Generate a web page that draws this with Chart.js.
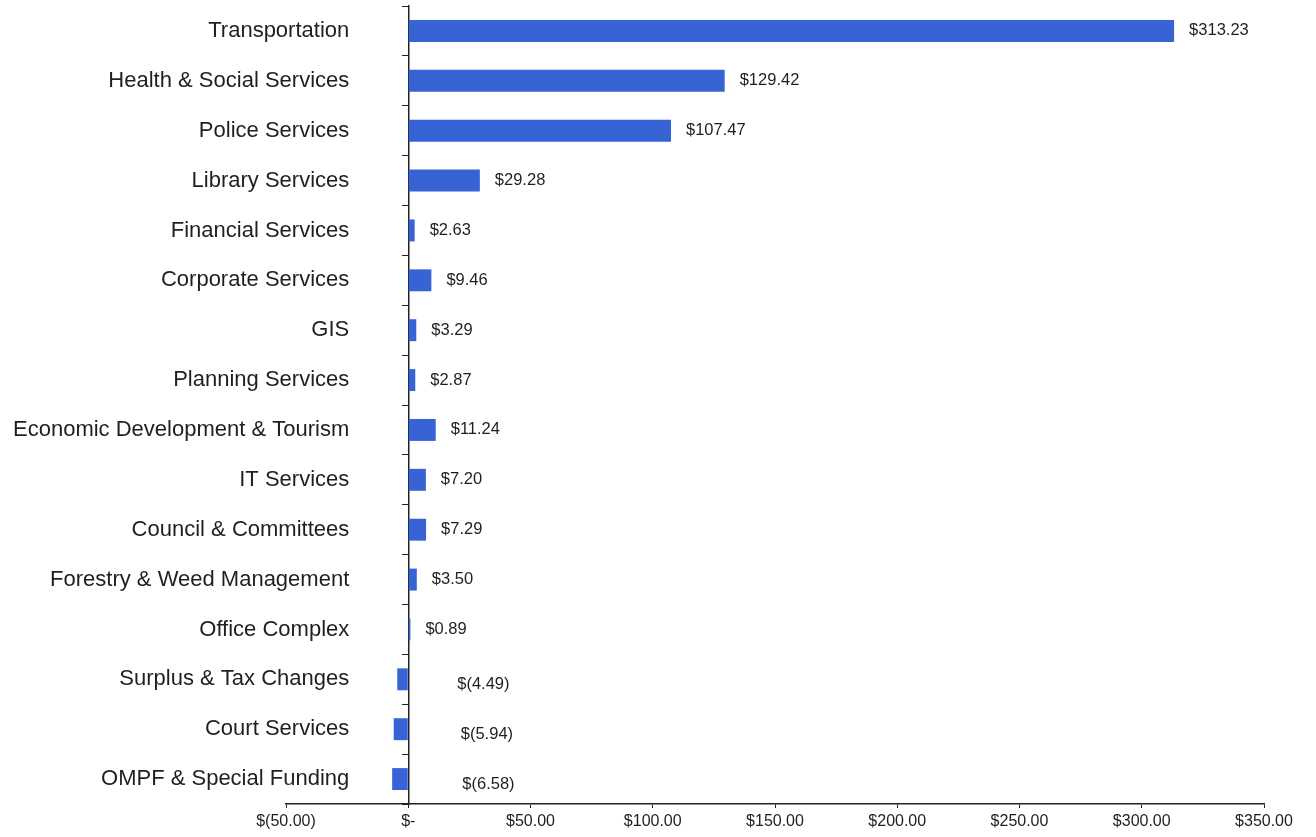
<!DOCTYPE html>
<html>
<head>
<meta charset="utf-8">
<script src="https://cdn.jsdelivr.net/npm/chart.js@4"></script>
<style>
  html, body { margin: 0; padding: 0; background: #fff; }
  #wrap { width: 1316px; height: 837px; position: relative; }
</style>
</head>
<body>
<div id="wrap"><canvas id="chart"></canvas></div>
<script>
// categories top to bottom
const categories = [
  'Transportation', 'Health & Social Services', 'Police Services', 'Library Services',
  'Financial Services', 'Corporate Services', 'GIS', 'Planning Services',
  'Economic Development & Tourism', 'IT Services', 'Council & Committees',
  'Forestry & Weed Management', 'Office Complex', 'Surplus & Tax Changes',
  'Court Services', 'OMPF & Special Funding'
];
const values = [313.23, 129.42, 107.47, 29.28, 2.63, 9.46, 3.29, 2.87, 11.24, 7.20, 7.29, 3.50, 0.89, -4.49, -5.94, -6.58];
const xMin = -50, xMax = 350, xStep = 50;

const BAR = '#3763d4';
const INK = '#1f1f1f';
const FONT = 'Arial, "Liberation Sans", sans-serif';

function money(v) {
  if (Math.abs(v) < 1e-9) return '$-';
  if (v < 0) return '$(' + Math.abs(v).toFixed(2) + ')';
  return '$' + v.toFixed(2);
}

// category names, drawn left of the zero axis (axis sits at x = 0, not at the chart edge)
const categoryLabels = {
  id: 'categoryLabels',
  afterDraw(chart) {
    const ctx = chart.ctx;
    const ys = chart.scales.y;
    const x = chart.scales.x.getPixelForValue(0) - 59;
    ctx.save();
    ctx.font = '22px ' + FONT;
    ctx.fillStyle = INK;
    ctx.textAlign = 'right';
    ctx.textBaseline = 'middle';
    categories.forEach((c, i) => ctx.fillText(c, x, ys.getPixelForTick(i)));
    ctx.restore();
  }
};

// value labels to the right of the bars (Excel-style, negatives also on the right)
const valueLabels = {
  id: 'valueLabels',
  afterDatasetsDraw(chart) {
    const ctx = chart.ctx;
    const meta = chart.getDatasetMeta(0);
    const xs = chart.scales.x;
    ctx.save();
    ctx.font = '16.5px ' + FONT;
    ctx.fillStyle = INK;
    ctx.textAlign = 'left';
    ctx.textBaseline = 'middle';
    meta.data.forEach((bar, i) => {
      const v = values[i];
      let x, y = bar.y;
      if (v >= 0) {
        x = xs.getPixelForValue(v) + 15;
      } else {
        x = xs.getPixelForValue(-v) + 38;
        y += 5;
      }
      ctx.fillText(money(v), x, y);
    });
    ctx.restore();
  }
};

new Chart(document.getElementById('chart'), {
  type: 'bar',
  data: {
    labels: categories,
    datasets: [{
      data: values,
      backgroundColor: BAR,
      borderWidth: 0,
      categoryPercentage: 1,
      barPercentage: 0.44
    }]
  },
  options: {
    indexAxis: 'y',
    responsive: true,
    maintainAspectRatio: false,
    animation: false,
    layout: { padding: { left: 286, right: 52, top: 6, bottom: 0 } },
    plugins: { legend: { display: false }, tooltip: { enabled: false } },
    scales: {
      x: {
        type: 'linear',
        min: xMin,
        max: xMax,
        afterBuildTicks(scale) {
          const t = [];
          for (let v = xMin; v <= xMax; v += xStep) t.push({ value: v });
          scale.ticks = t;
        },
        afterFit(scale) { scale.height = 33; },
        grid: { drawOnChartArea: false, drawTicks: true, tickLength: 4, color: '#222' },
        border: { display: true, color: '#222', width: 1.5 },
        ticks: {
          color: INK,
          font: { family: FONT, size: 16 },
          padding: 4,
          maxRotation: 0,
          autoSkip: false,
          callback: (v) => money(v)
        }
      },
      y: {
        position: { x: 0 },
        offset: true,
        grid: { drawOnChartArea: false, drawTicks: true, tickLength: 6, color: '#222', offset: true },
        border: { display: true, color: '#222', width: 1.5 },
        ticks: { display: false, autoSkip: false }
      }
    }
  },
  plugins: [valueLabels, categoryLabels]
});
</script>
</body>
</html>
